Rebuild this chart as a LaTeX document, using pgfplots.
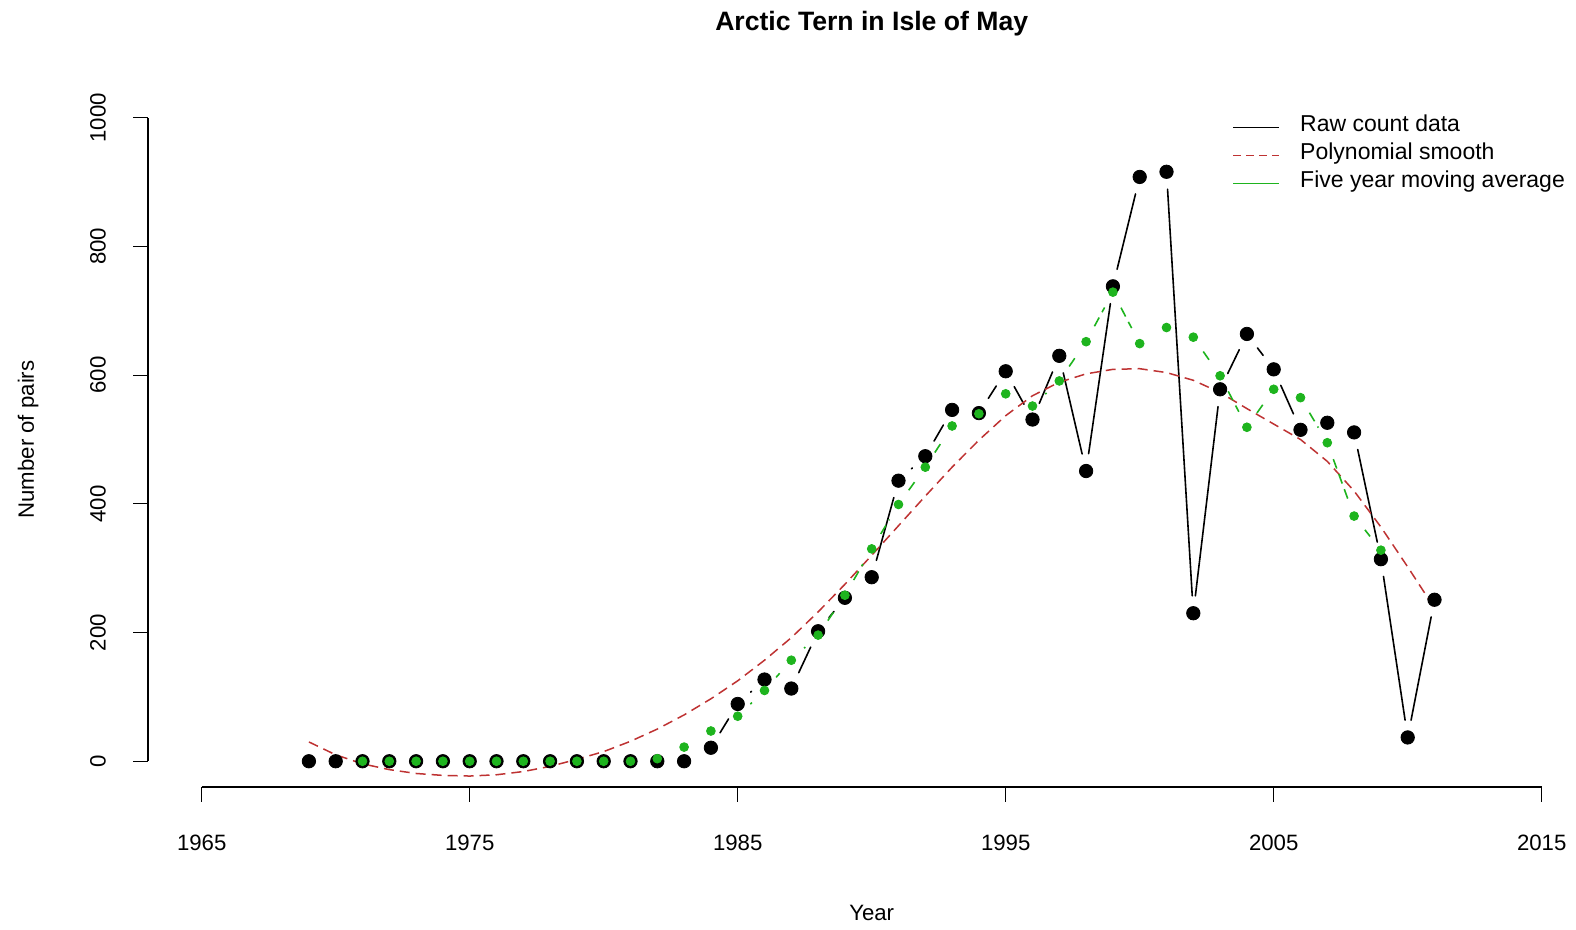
\documentclass[border=0pt]{standalone}
\usepackage{pgfplots}
\usepackage{pgfplotstable}
\pgfplotsset{compat=1.18}
\usepackage{fontspec}
\setmainfont{Liberation Sans}

\definecolor{tgreen}{RGB}{30,180,30}
\definecolor{polyred}{RGB}{190,50,50}

% raw counts (number of pairs)
\pgfplotstableread{
year n
1969 0
1970 0
1971 0
1972 0
1973 0
1974 0
1975 0
1976 0
1977 0
1978 0
1979 0
1980 0
1981 0
1982 0
1983 0
1984 21
1985 89
1986 127
1987 113
1988 202
1989 254
1990 286
1991 436
1992 474
1993 546
1994 541
1995 606
1996 531
1997 630
1998 451
1999 738
2000 908
2001 916
2002 230
2003 578
2004 664
2005 609
2006 515
2007 526
2008 511
2009 314
2010 37
2011 251
}\rawdata

% visible segments of the raw line (type b: gaps round the points)
\pgfplotstableread{
x y x2 y2
1984 21 1985 89
1985 89 1986 127
1987 113 1988 202
1988 202 1989 254
1990 286 1991 436
1991 436 1992 474
1992 474 1993 546
1994 541 1995 606
1995 606 1996 531
1996 531 1997 630
1997 630 1998 451
1998 451 1999 738
1999 738 2000 908
2001 916 2002 230
2002 230 2003 578
2003 578 2004 664
2004 664 2005 609
2005 609 2006 515
2008 511 2009 314
2009 314 2010 37
2010 37 2011 251
}\rawseg

% five year moving average
\pgfplotstableread{
year ma
1971 0
1972 0
1973 0
1974 0
1975 0
1976 0
1977 0
1978 0
1979 0
1980 0
1981 0
1982 4
1983 22
1984 47
1985 70
1986 110
1987 157
1988 196
1989 258
1990 330
1991 399
1992 457
1993 521
1994 540
1995 571
1996 552
1997 591
1998 652
1999 729
2000 649
2001 674
2002 659
2003 599
2004 519
2005 578
2006 565
2007 495
2008 381
2009 328
}\madata

\pgfplotstableread{
x y x2 y2
1985 70 1986 110
1986 110 1987 157
1987 157 1988 196
1988 196 1989 258
1989 258 1990 330
1990 330 1991 399
1991 399 1992 457
1992 457 1993 521
1996 552 1997 591
1997 591 1998 652
1998 652 1999 729
1999 729 2000 649
2002 659 2003 599
2003 599 2004 519
2004 519 2005 578
2006 565 2007 495
2007 495 2008 381
2008 381 2009 328
}\maseg

% polynomial smooth
\pgfplotstableread{
year p
1969 30
1970 10
1971 -4
1972 -13
1973 -19
1974 -22
1975 -23
1976 -21
1977 -16
1978 -8
1979 3
1980 15
1981 31
1982 50
1983 72
1984 97
1985 125
1986 157
1987 192
1988 232
1989 275
1990 320
1991 366
1992 412
1993 457
1994 499
1995 537
1996 568
1997 589
1998 602
1999 609
2000 610
2001 604
2002 592
2003 573
2004 548
2005 524
2006 500
2007 466
2008 420
2009 364
2010 302
2011 238
}\polydata

\begin{document}
\begin{tikzpicture}
\begin{axis}[
    name=ax,
    scale only axis,
    width=723.6pt, height=347.5pt,
    xmin=1963, xmax=2017,
    ymin=-40, ymax=1040,
    clip=false,
    axis lines*=left,
    axis line style={draw=none},
    xtick={1965,1975,...,2015},
    ytick={0,200,...,1000},
    tick align=outside,
    major tick length=7.5pt,
    tick style={black, line width=0.6pt},
    /pgf/number format/1000 sep={},
    /pgf/number format/assume math mode=true,
    ticklabel style={font=\fontsize{11.1}{13}\selectfont},
    xticklabel style={anchor=center, yshift=-20.5pt},
    yticklabel style={xshift=-17.5pt, rotate=90, anchor=center},
    title={Arctic Tern in Isle of May},
    title style={at={(axis description cs:0.5,1.0806)}, anchor=center,
        font=\bfseries\fontsize{13.3}{16}\selectfont},
    xlabel={Year},
    xlabel style={at={(axis description cs:0.5,-0.1813)}, anchor=center,
        font=\fontsize{11.1}{13}\selectfont},
    ylabel={Number of pairs},
    ylabel style={at={(axis description cs:-0.0829,0.5)}, anchor=center,
        font=\fontsize{11.1}{13}\selectfont},
    legend cell align=left,
    legend image code/.code={
        \draw[#1] (0pt,0pt) -- (23pt,0pt);
        \path[draw=none] (0pt,0pt) -- (33.5pt,0pt);
    },
    legend style={at={(axis description cs:0.749,0.9698)}, anchor=north west,
        draw=none, fill=none, inner sep=0pt, row sep=0pt, column sep=0pt,
        nodes={inner sep=0pt, text height=9pt, text depth=5pt},
        font=\fontsize{11.5}{13}\selectfont},
]

% raw counts: line pieces, then points
\addplot[black, line width=0.8pt, line cap=round, forget plot,
    quiver={u=\thisrow{x2}-\thisrow{x}, v=\thisrow{y2}-\thisrow{y},
        every arrow/.append style={-, shorten <=8.75pt, shorten >=8.75pt}}]
    table[x=x, y=y] {\rawseg};
\addplot[only marks, mark=*, mark size=3.35pt, black, forget plot]
    table[x=year, y=n] {\rawdata};

% polynomial smooth
\addplot[polyred, line width=0.75pt, dash pattern=on 5pt off 3pt, forget plot]
    table[x=year, y=p] {\polydata};

% moving average: dashed pieces, then points
\addplot[tgreen, line width=0.8pt, dash pattern=on 5pt off 3pt, forget plot,
    quiver={u=\thisrow{x2}-\thisrow{x}, v=\thisrow{y2}-\thisrow{y},
        every arrow/.append style={-, shorten <=8.75pt, shorten >=8.75pt}}]
    table[x=x, y=y] {\maseg};
\addplot[only marks, mark=*, mark size=2.2pt, tgreen,
    mark options={draw=tgreen, fill=tgreen}, forget plot]
    table[x=year, y=ma] {\madata};

\addlegendimage{black, line width=0.8pt}
\addlegendentry{Raw count data}
\addlegendimage{polyred, line width=0.75pt, dash pattern=on 4pt off 2.5pt}
\addlegendentry{Polynomial smooth}
\addlegendimage{tgreen, line width=0.8pt}
\addlegendentry{Five year moving average}

% R style axis lines, only over the tick range
\draw[line width=0.6pt] (axis cs:1965,-40) -- (axis cs:2015,-40);
\draw[line width=0.6pt] (axis cs:1963,0) -- (axis cs:1963,1000);
\end{axis}
\pgfresetboundingbox
\path[use as bounding box] ([xshift=-74.05pt,yshift=-71.5pt]ax.south west)
    rectangle ([xshift=-9.65pt,yshift=46pt]ax.north east);
\end{tikzpicture}
\end{document}
